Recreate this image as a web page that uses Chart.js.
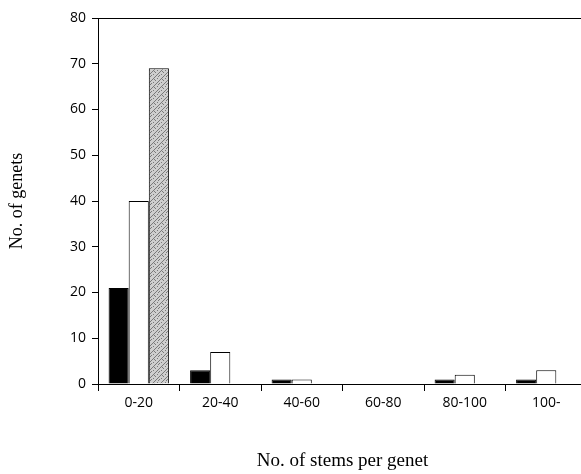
<!DOCTYPE html>
<html>
<head>
<meta charset="utf-8">
<script src="https://cdn.jsdelivr.net/npm/chart.js@4"></script>
<style>
  html, body { margin: 0; padding: 0; background: #fff; overflow: hidden; }
  #wrap { width: 590px; height: 474px; }
</style>
</head>
<body>
<div id="wrap"><canvas id="BarChart" width="590" height="474"></canvas></div>
<script>
// ================ data ======================
const categories = ['0-20', '20-40', '40-60', '60-80', '80-100', '100-'];
const blackValues = [21, 3, 1, 0, 1, 1];
const whiteValues = [40, 7, 1, 0, 2, 3];
const stippleValues = [69, 0, 0, 0, 0, 0];
const yTicks = [0, 10, 20, 30, 40, 50, 60, 70, 80];

// stippled fill for the third series
function makeStipple() {
    const c = document.createElement('canvas');
    c.width = 8; c.height = 8;
    const g = c.getContext('2d');
    g.fillStyle = '#cfcfcf';
    g.fillRect(0, 0, 8, 8);
    g.fillStyle = '#7a7a7a';
    // diagonal speckles
    const dots = [[0,7],[1,6],[2,5],[3,4],[4,3],[5,2],[6,1],[7,0],[1,2],[5,6],[3,0],[6,4],[2,7],[7,3]];
    dots.forEach(d => g.fillRect(d[0], d[1], 1, 1));
    return g.createPattern(c, 'repeat');
}

const tickFont = { family: '"Open Sans", sans-serif', size: 14 };

const data = {
    labels: categories,
    datasets: [
        { data: blackValues, backgroundColor: '#000', borderColor: '#000', borderWidth: 1 },
        { data: whiteValues, backgroundColor: '#fff', borderColor: '#000', borderWidth: 1 },
        { data: stippleValues, backgroundColor: makeStipple(), borderColor: '#000', borderWidth: 1 }
    ]
};

const config = {
    type: 'bar',
    data: data,
    options: {
        responsive: false,
        animation: false,
        layout: { padding: { top: 18, right: 3, left: 6, bottom: 2 } },
        datasets: { bar: { categoryPercentage: 0.74, barPercentage: 1.0 } },
        plugins: { legend: { display: false }, tooltip: { enabled: false } },
        scales: {
            x: {
                grid: { display: true, drawOnChartArea: false, offset: true, tickLength: 7, color: '#000' },
                border: { display: true, color: '#000', width: 1 },
                ticks: { color: '#000', font: tickFont, padding: 4, maxRotation: 0 },
                title: { display: true, text: 'No. of stems per genet', color: '#000',
                         font: { family: '"Liberation Serif", serif', size: 19 }, padding: 0 },
                afterFit(scale) { scale.height = 88; }
            },
            x2: {
                position: 'top',
                grid: { display: false },
                border: { display: true, color: '#000', width: 1 },
                ticks: { display: false },
                afterFit(scale) { scale.height = 0; }
            },
            y: {
                min: 0,
                max: 80,
                afterBuildTicks(scale) { scale.ticks = yTicks.map(v => ({ value: v })); },
                grid: { display: true, drawOnChartArea: false, tickLength: 6, color: '#000' },
                border: { display: true, color: '#000', width: 1 },
                ticks: { color: '#000', font: tickFont, padding: 6 },
                title: { display: true, text: 'No. of genets', color: '#000',
                         font: { family: '"Liberation Serif", serif', size: 18 }, padding: 0 },
                afterFit(scale) { scale.width = 92; }
            }
        }
    }
};

new Chart(document.getElementById('BarChart'), config);
</script>
</body>
</html>
